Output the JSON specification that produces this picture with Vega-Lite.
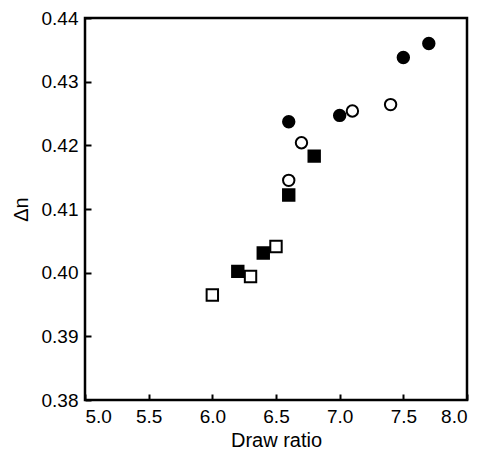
{
  "$schema": "https://vega.github.io/schema/vega-lite/v6.json",
  "width": 382,
  "height": 382,
  "autosize": "none",
  "padding": {"left": 85, "top": 18, "right": 14, "bottom": 52},
  "config": {
    "font": "Liberation Sans",
    "view": {"stroke": "black", "strokeWidth": 2.5},
    "axis": {
      "domain": false,
      "grid": false,
      "tickColor": "black",
      "tickWidth": 2,
      "tickSize": -6,
      "labelColor": "black",
      "labelFont": "Liberation Sans",
      "labelFontSize": 19,
      "titleColor": "black",
      "titleFont": "Liberation Sans",
      "titleFontSize": 20,
      "titleFontWeight": "normal"
    }
  },
  "data": {
    "values": [
      {"dr": 6.6, "dn": 0.4237, "marker": "circle", "fillType": "filled"},
      {"dr": 7.0, "dn": 0.4247, "marker": "circle", "fillType": "filled"},
      {"dr": 7.5, "dn": 0.4338, "marker": "circle", "fillType": "filled"},
      {"dr": 7.7, "dn": 0.4360, "marker": "circle", "fillType": "filled"},
      {"dr": 6.6, "dn": 0.4145, "marker": "circle", "fillType": "open"},
      {"dr": 6.7, "dn": 0.4204, "marker": "circle", "fillType": "open"},
      {"dr": 7.1, "dn": 0.4254, "marker": "circle", "fillType": "open"},
      {"dr": 7.4, "dn": 0.4264, "marker": "circle", "fillType": "open"},
      {"dr": 6.6, "dn": 0.4122, "marker": "square", "fillType": "filled"},
      {"dr": 6.8, "dn": 0.4183, "marker": "square", "fillType": "filled"},
      {"dr": 6.4, "dn": 0.4031, "marker": "square", "fillType": "filled"},
      {"dr": 6.2, "dn": 0.4002, "marker": "square", "fillType": "filled"},
      {"dr": 6.0, "dn": 0.3965, "marker": "square", "fillType": "open"},
      {"dr": 6.3, "dn": 0.3994, "marker": "square", "fillType": "open"},
      {"dr": 6.5, "dn": 0.4041, "marker": "square", "fillType": "open"}
    ]
  },
  "mark": {"type": "point", "filled": true, "stroke": "black", "strokeWidth": 2, "opacity": 1, "size": 130},
  "encoding": {
    "x": {
      "field": "dr", "type": "quantitative",
      "scale": {"domain": [5.0, 8.0], "nice": false, "zero": false},
      "axis": {"values": [5.0, 5.5, 6.0, 6.5, 7.0, 7.5, 8.0], "format": ".1f", "title": "Draw ratio", "labelPadding": 13, "titlePadding": 4}
    },
    "y": {
      "field": "dn", "type": "quantitative",
      "scale": {"domain": [0.38, 0.44], "nice": false, "zero": false},
      "axis": {"values": [0.38, 0.39, 0.40, 0.41, 0.42, 0.43, 0.44], "format": ".2f", "title": "Δn", "labelPadding": 13, "titlePadding": 10}
    },
    "shape": {"field": "marker", "type": "nominal", "scale": {"domain": ["circle", "square"], "range": ["circle", "square"]}, "legend": null},
    "fill": {"field": "fillType", "type": "nominal", "scale": {"domain": ["filled", "open"], "range": ["black", "white"]}, "legend": null}
  }
}
